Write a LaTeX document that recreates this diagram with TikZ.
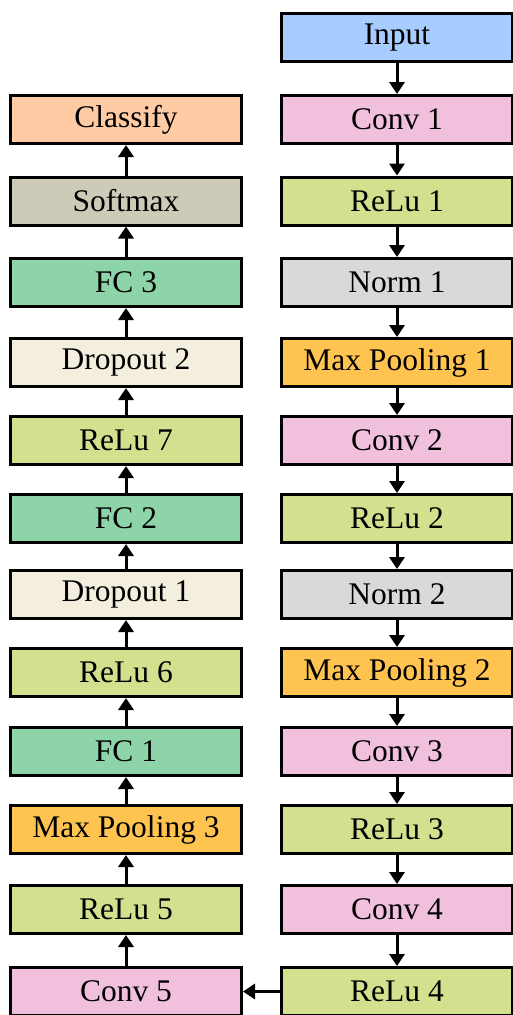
\documentclass[tikz,border=0pt]{standalone}
\usepackage{fontspec}
\setmainfont{Liberation Serif}
\usetikzlibrary{arrows.meta}
\definecolor{cInput}{HTML}{A9CCFF}
\definecolor{cConv}{HTML}{F0C0DD}
\definecolor{cRelu}{HTML}{D3E08D}
\definecolor{cNorm}{HTML}{D9D9D9}
\definecolor{cPool}{HTML}{FFC44F}
\definecolor{cClass}{HTML}{FFCBA4}
\definecolor{cSoft}{HTML}{CDCBB8}
\definecolor{cFC}{HTML}{8DD5A8}
\definecolor{cDrop}{HTML}{F3EEDD}
\tikzset{
  layer/.style={draw=black, line width=3pt, rectangle, inner sep=0pt,
    minimum width=231pt, minimum height=48pt, font=\fontsize{31.5}{33}\selectfont},
  flow/.style={line width=3pt, -{Triangle[length=12pt,width=15pt]}}
}
\begin{document}
\begin{tikzpicture}[x=1pt,y=-1pt]
\useasboundingbox (0,0) rectangle (512,1015);
% right column
\node[layer, fill=cInput] (in) at (397,37.5) {Input};
\node[layer, fill=cConv] (c1) at (397,119.5) {Conv 1};
\node[layer, fill=cRelu] (r1) at (397,201) {ReLu 1};
\node[layer, fill=cNorm] (n1) at (397,282.5) {Norm 1};
\node[layer, fill=cPool] (p1) at (397,362.5) {Max Pooling 1};
\node[layer, fill=cConv] (c2) at (397,440.5) {Conv 2};
\node[layer, fill=cRelu] (r2) at (397,518.5) {ReLu 2};
\node[layer, fill=cNorm] (n2) at (397,594.5) {Norm 2};
\node[layer, fill=cPool] (p2) at (397,672.5) {Max Pooling 2};
\node[layer, fill=cConv] (c3) at (397,751.5) {Conv 3};
\node[layer, fill=cRelu] (r3) at (397,829.5) {ReLu 3};
\node[layer, fill=cConv] (c4) at (397,909.5) {Conv 4};
\node[layer, fill=cRelu] (r4) at (397,991.5) {ReLu 4};
% left column
\node[layer, fill=cClass] (cl) at (126,119.5) {Classify};
\node[layer, fill=cSoft] (sm) at (126,201) {Softmax};
\node[layer, fill=cFC] (f3) at (126,282.5) {FC 3};
\node[layer, fill=cDrop] (d2) at (126,362.5) {Dropout 2};
\node[layer, fill=cRelu] (r7) at (126,440.5) {ReLu 7};
\node[layer, fill=cFC] (f2) at (126,518.5) {FC 2};
\node[layer, fill=cDrop] (d1) at (126,594.5) {Dropout 1};
\node[layer, fill=cRelu] (r6) at (126,672.5) {ReLu 6};
\node[layer, fill=cFC] (f1) at (126,751.5) {FC 1};
\node[layer, fill=cPool] (p3) at (126,829.5) {Max Pooling 3};
\node[layer, fill=cRelu] (r5) at (126,909.5) {ReLu 5};
\node[layer, fill=cConv] (c5) at (126,991.5) {Conv 5};
% right arrows (down)
\foreach \a/\b in {in/c1,c1/r1,r1/n1,n1/p1,p1/c2,c2/r2,r2/n2,n2/p2,p2/c3,c3/r3,r3/c4,c4/r4}
  \draw[flow] (\a.south) -- (\b.north);
% cross arrow
\draw[flow] (r4.west) -- (c5.east);
% left arrows (up)
\foreach \a/\b in {c5/r5,r5/p3,p3/f1,f1/r6,r6/d1,d1/f2,f2/r7,r7/d2,d2/f3,f3/sm,sm/cl}
  \draw[flow] (\a.north) -- (\b.south);
\end{tikzpicture}
\end{document}
